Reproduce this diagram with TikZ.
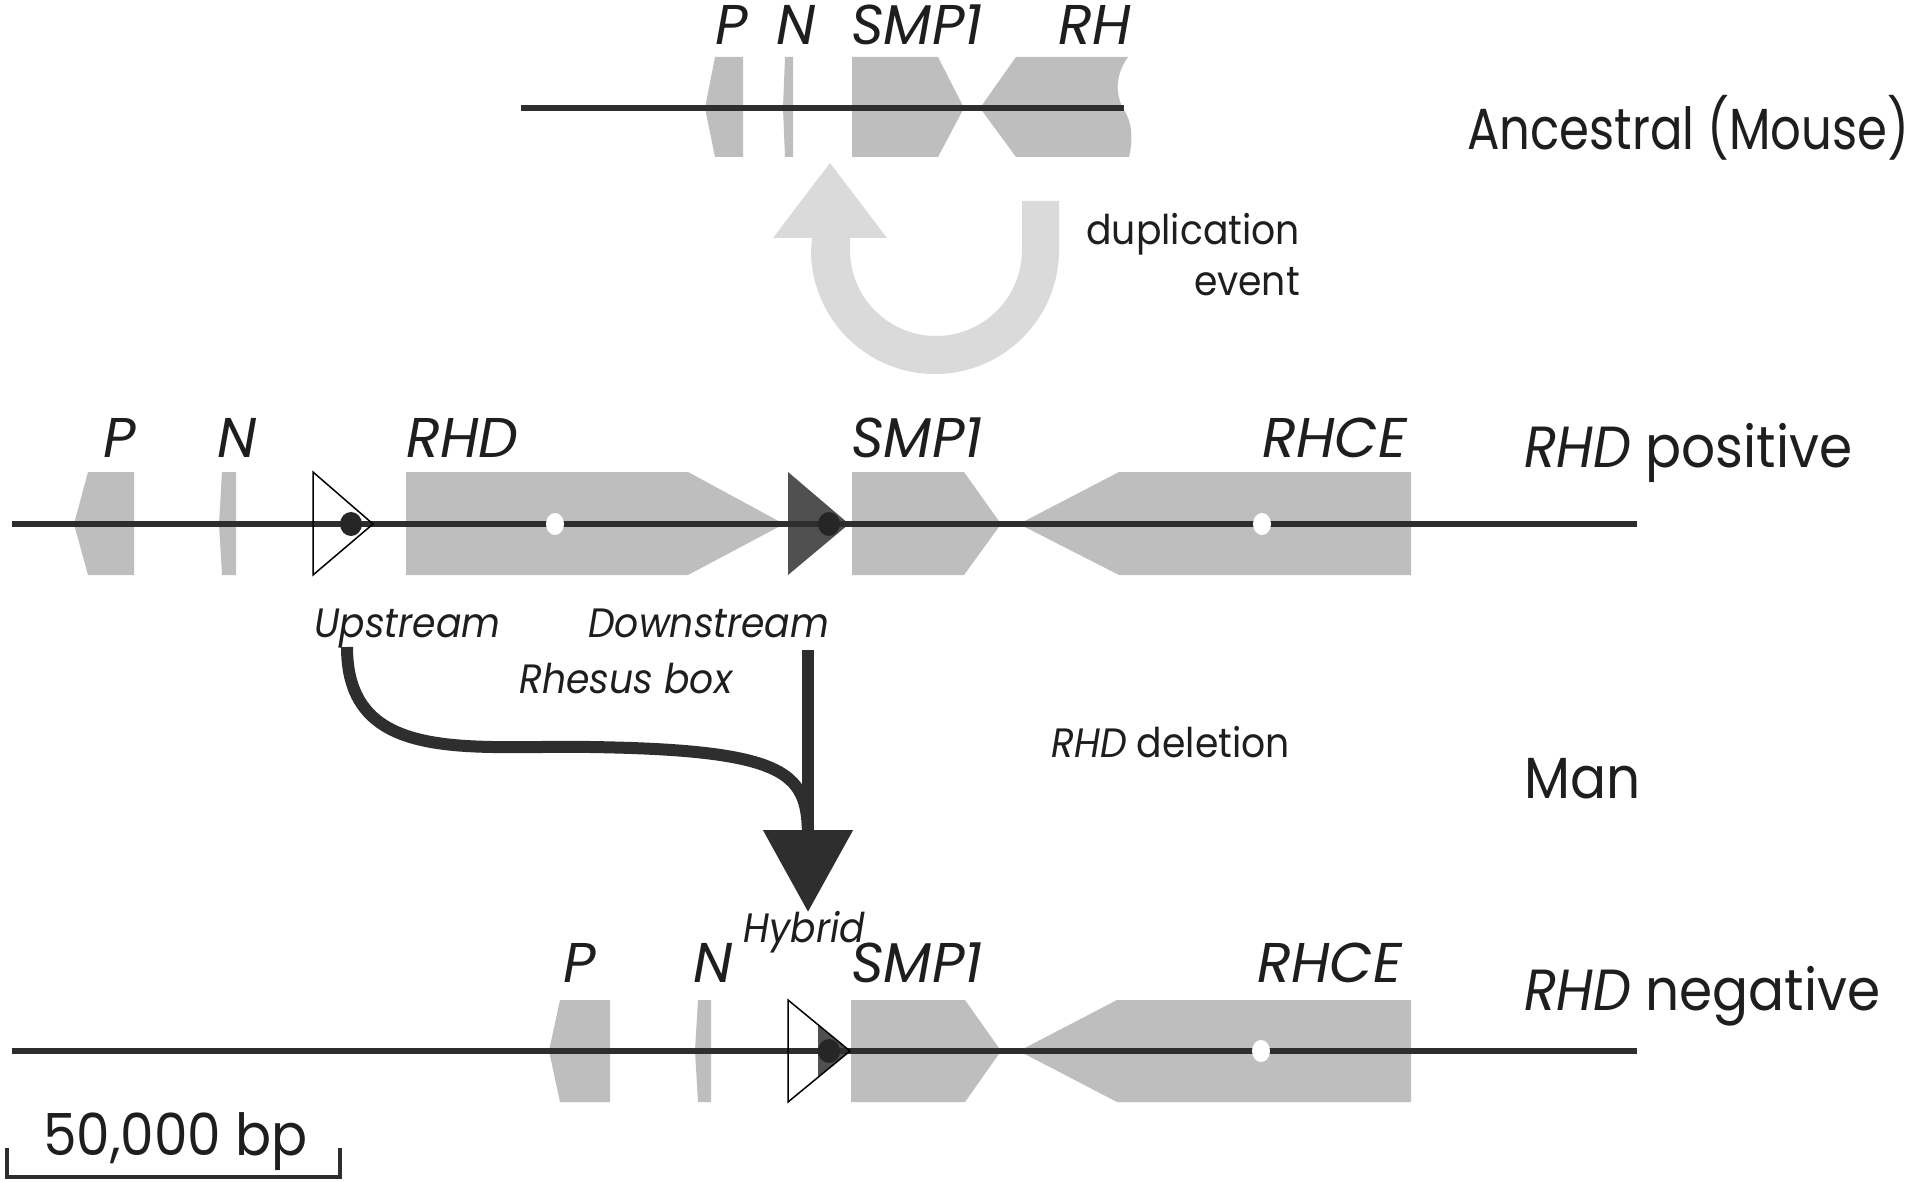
\documentclass[tikz,border=0pt]{standalone}
\usepackage{fontspec}
\setmainfont{Poppins}[FakeStretch=0.92]
\newfontfamily\genefont{Poppins}
\newfontfamily\ancfont{Poppins}[FakeStretch=0.83]
\usetikzlibrary{arrows.meta}
\definecolor{genegray}{HTML}{BEBEBE}
\definecolor{dupgray}{HTML}{DADADA}
\definecolor{linecol}{HTML}{2E2E2E}
\definecolor{boxdark}{HTML}{505050}
\definecolor{txt}{HTML}{1E1E1E}
\tikzset{
  gene/.style={fill=genegray},
  chrom/.style={draw=linecol, line width=6pt},
  openbox/.style={draw=black, line width=1.5pt, fill=none},
  darkbox/.style={fill=boxdark},
  bdot/.style={fill=black!85},
  wdot/.style={fill=white},
  biglab/.style={inner sep=0pt, text=txt, font=\fontsize{58}{60}\selectfont},
  anclab/.style={inner sep=0pt, text=txt, font=\ancfont\fontsize{58}{60}\selectfont},
  genelab/.style={inner sep=0pt, text=txt, font=\genefont\fontsize{56}{58}\selectfont\itshape},
  smalllab/.style={inner sep=0pt, text=txt, font=\fontsize{41}{43}\selectfont},
  smallit/.style={smalllab, font=\fontsize{41}{43}\selectfont\itshape},
  thickline/.style={draw=linecol, line width=12pt},
  thickarrow/.style={thickline, -{Triangle[length=82pt,width=87pt]}},
  scalebar/.style={draw=linecol, line width=4pt}
}
\begin{document}
\begin{tikzpicture}[x=1pt,y=-1pt]
\useasboundingbox (0,0) rectangle (1920,1182);
\fill[white] (0,0) rectangle (1920,1182);

% ---------- Ancestral (Mouse) row ----------
\fill[gene] (715,57) -- (743,57) -- (743,157) -- (715,157) -- (705,108) -- cycle;
\fill[gene] (785,57) -- (793,57) -- (793,157) -- (785,157) -- (783,108) -- cycle;
\fill[gene] (852,57) -- (938,57) -- (964,108) -- (938,157) -- (852,157) -- cycle;
\fill[gene] (980,108) -- (1016,57) -- (1128,57)
  .. controls (1115,75) and (1115,95) .. (1124,110)
  .. controls (1134,125) and (1132,145) .. (1129,157)
  -- (1016,157) -- cycle;
\coordinate (a1) at (521,108);
\coordinate (a2) at (1124,108);
\draw[chrom] (a1) -- (a2);
\node[genelab, anchor=base] (tP) at (732,45) {P};
\node[genelab, anchor=base] (tN) at (796,45) {N};
\node[genelab, anchor=base west] (tS) at (851,45) {SMP1};
\node[genelab, anchor=base east] (tR) at (1131,45) {RH};
\node[anclab, anchor=base west] (anc) at (1467,150) {Ancestral (Mouse)};

% ---------- duplication arrow ----------
\fill[dupgray] (1059,201) -- (1059,250) arc[start angle=0, end angle=180, radius=124]
  -- (812,238) -- (773,238) -- (830,163) -- (887,238) -- (850,238) -- (850,250)
  arc[start angle=180, end angle=0, radius=86] -- (1022,201) -- cycle;
\node[smalllab, anchor=base east] (dup1) at (1300,245) {duplication};
\node[smalllab, anchor=base east] (dup2) at (1300,296) {event};

% ---------- RHD positive row ----------
\fill[gene] (88,472) -- (134,472) -- (134,575) -- (88,575) -- (74,524) -- cycle;
\fill[gene] (222,472) -- (236,472) -- (236,575) -- (222,575) -- (219,524) -- cycle;
\fill[gene] (406,472) -- (688,472) -- (784,524) -- (688,575) -- (406,575) -- cycle;
\fill[gene] (852,472) -- (964,472) -- (1001,524) -- (964,575) -- (852,575) -- cycle;
\fill[gene] (1019,524) -- (1119,472) -- (1411,472) -- (1411,575) -- (1119,575) -- cycle;
\fill[darkbox] (788,472) -- (849,524) -- (788,575) -- cycle;
\coordinate (p1) at (12,524);
\coordinate (p2) at (1637,524);
\draw[chrom] (p1) -- (p2);
\draw[openbox] (313,472) -- (373,524) -- (313,575) -- cycle;
\fill[bdot] (351,524) ellipse [x radius=11, y radius=12];
\fill[bdot] (829,524) ellipse [x radius=11, y radius=12];
\fill[wdot] (555,524) ellipse [x radius=9, y radius=11];
\fill[wdot] (1262,524) ellipse [x radius=9, y radius=11];
\node[genelab, anchor=base] (mP) at (120,457) {P};
\node[genelab, anchor=base] (mN) at (237,457) {N};
\node[genelab, anchor=base west] (mRHD) at (406,457) {RHD};
\node[genelab, anchor=base west] (mS) at (851,457) {SMP1};
\node[genelab, anchor=base east] (mRHCE) at (1407,457) {RHCE};
\node[biglab, anchor=base west] (pos) at (1524,467) {\itshape RHD\upshape{} positive};

% ---------- Rhesus box labels and arrows ----------
\node[smallit, anchor=base west] (ups) at (314,637) {Upstream};
\node[smallit, anchor=base west] (dns) at (588,637) {Downstream};
\node[smallit, anchor=base west] (rbox) at (519,693) {Rhesus box};
\node[smalllab, anchor=base west] (del) at (1051,757) {\itshape RHD\upshape{} deletion};
\node[biglab, anchor=base west] (man) at (1524,798) {Man};
\coordinate (upstart) at (347,647);
\coordinate (dnstart) at (808,650);
\coordinate (hybtip) at (808,912);
\draw[thickline] (upstart) .. controls (347,765) and (470,745) .. (590,747)
  .. controls (795,750) and (808,775) .. (808,840);
\draw[thickarrow] (dnstart) -- (hybtip);

% ---------- RHD negative row ----------
\fill[gene] (560,1000) -- (610,1000) -- (610,1102) -- (560,1102) -- (549,1051) -- cycle;
\fill[gene] (698,1000) -- (711,1000) -- (711,1102) -- (698,1102) -- (695,1051) -- cycle;
\fill[gene] (851,1000) -- (965,1000) -- (1001,1051) -- (965,1102) -- (851,1102) -- cycle;
\fill[gene] (1019,1051) -- (1117,1000) -- (1411,1000) -- (1411,1102) -- (1117,1102) -- cycle;
\fill[darkbox] (818,1025) -- (850,1051) -- (818,1077) -- cycle;
\coordinate (n1) at (12,1051);
\coordinate (n2) at (1637,1051);
\draw[chrom] (n1) -- (n2);
\draw[openbox] (788,1000) -- (850,1051) -- (788,1102) -- cycle;
\fill[bdot] (829,1051) ellipse [x radius=11, y radius=12];
\fill[wdot] (1261,1051) ellipse [x radius=9, y radius=11];
\node[genelab, anchor=base] (bP) at (580,982) {P};
\node[genelab, anchor=base] (bN) at (713,982) {N};
\node[smallit, anchor=base west] (hyb) at (743,942) {Hybrid};
\node[genelab, anchor=base west] (bS) at (851,982) {SMP1};
\node[genelab, anchor=base east] (bRHCE) at (1402,982) {RHCE};
\node[biglab, anchor=base west] (neg) at (1524,1010) {\itshape RHD\upshape{} negative};

% ---------- scale bar ----------
\coordinate (s1) at (7,1148);
\coordinate (s2) at (340,1148);
\draw[scalebar] (s1) -- (7,1177) -- (340,1177) -- (s2);
\node[biglab, anchor=base west] (bp) at (43,1155) {50,000 bp};
\end{tikzpicture}
\end{document}
